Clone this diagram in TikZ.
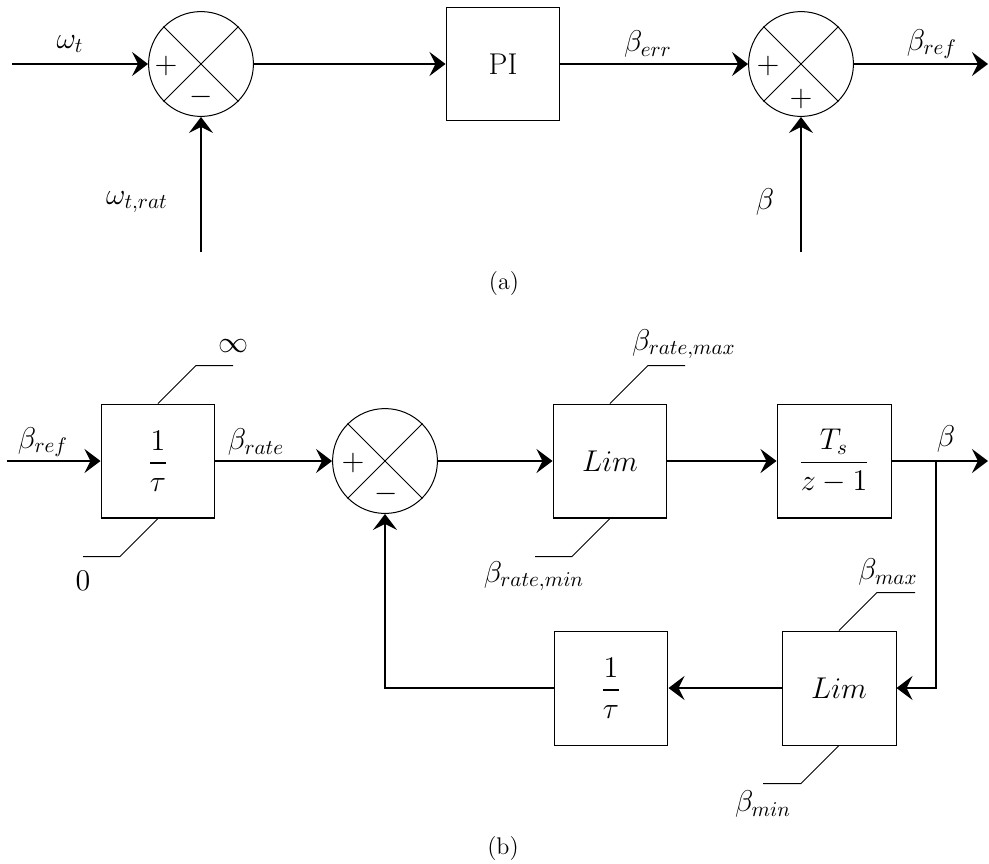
\RequirePackage{fix-cm}
\documentclass[tikz,border=0pt,12pt]{standalone}
\usepackage{amsmath}
\usetikzlibrary{arrows.meta}
\tikzset{
 big/.style={font=\fontsize{15}{18}\selectfont},
 blk/.style={big, draw, line width=0.5pt, minimum width=2cm, minimum height=2cm, inner sep=0pt},
 sumc/.style={draw, circle, line width=0.5pt, minimum size=1.84cm, inner sep=0pt},
 cross/.style={line width=0.5pt},
 sig/.style={line width=1pt, -{Stealth[length=8pt,width=12pt,inset=3pt]}},
 limline/.style={line width=0.5pt},
 lbl/.style={big, inner sep=0pt},
 captxt/.style={inner sep=0pt},
}
\begin{document}
\begin{tikzpicture}[x=0.01754cm, y=-0.01754cm]
\useasboundingbox (0,0) rectangle (989,863);
% ---------- (a) ----------
\coordinate (ain) at (12,64);
\node[sumc] (s1) at (201,64) {};
\draw[cross] (s1.north west) -- (s1.south east) (s1.north east) -- (s1.south west);
\node[lbl] (s1p) at (166,66) {$+$};
\node[lbl] (s1m) at (201,97) {$-$};
\node[blk] (pi) at (503,64) {PI};
\node[sumc] (s2) at (801,64) {};
\draw[cross] (s2.north west) -- (s2.south east) (s2.north east) -- (s2.south west);
\node[lbl] (s2p) at (768,66) {$+$};
\node[lbl] (s2q) at (801,99) {$+$};
\coordinate (aout) at (988,64);
\coordinate (aw) at (201,252);
\coordinate (ab) at (801,252);
\draw[sig] (ain) -- (s1.west);
\draw[sig] (aw) -- (s1.south);
\draw[sig] (s1.east) -- (pi.west);
\draw[sig] (pi.east) -- (s2.west);
\draw[sig] (s2.east) -- (aout);
\draw[sig] (ab) -- (s2.south);
\node[lbl] (lwt) at (70,44) {$\omega_t$};
\node[lbl] (lwr) at (137,202) {$\omega_{t,rat}$};
\node[lbl] (lbe) at (648,44) {$\beta_{err}$};
\node[lbl] (lbr) at (932,44) {$\beta_{ref}$};
\node[lbl] (lb) at (765,202) {$\beta$};
\node[captxt] (capa) at (504,283) {(a)};
% ---------- (b) ----------
\node[blk] (g1) at (158,461) {$\dfrac{1}{\tau}$};
\node[sumc] (s3) at (385,461) {};
\draw[cross] (s3.north west) -- (s3.south east) (s3.north east) -- (s3.south west);
\node[lbl] (s3p) at (353,463) {$+$};
\node[lbl] (s3m) at (386,494) {$-$};
\node[blk] (lim1) at (610,461) {$Lim$};
\node[blk] (ts) at (834,461) {$\dfrac{T_s}{z-1}$};
\node[blk] (lim2) at (839,688) {$Lim$};
\node[blk] (g2) at (611,688) {$\dfrac{1}{\tau}$};
\coordinate (bin) at (7,461);
\coordinate (bout) at (988,461);
\coordinate (br) at (936,461);
\draw[sig] (bin) -- (g1.west);
\draw[sig] (g1.east) -- (s3.west);
\draw[sig] (s3.east) -- (lim1.west);
\draw[sig] (lim1.east) -- (ts.west);
\draw[sig] (ts.east) -- (bout);
\draw[sig] (br) |- (lim2.east);
\draw[sig] (lim2.west) -- (g2.east);
\draw[sig] (g2.west) -| (s3.south);
% limiter marks
\draw[limline] (g1.north) -- ++(38,-38) -- ++(37,0);
\draw[limline] (g1.south) -- ++(-38,38) -- ++(-37,0);
\draw[limline] (lim1.north) -- ++(38,-38) -- ++(37,0);
\draw[limline] (lim1.south) -- ++(-38,38) -- ++(-37,0);
\draw[limline] (lim2.north) -- ++(38,-38) -- ++(38,0);
\draw[limline] (lim2.south) -- ++(-38,38) -- ++(-38,0);
\node[lbl] (linf) at (234,346) {$\infty$};
\node[lbl] (lzero) at (83,581) {$0$};
\node[lbl] (lrmax) at (684,344) {$\beta_{rate,max}$};
\node[lbl] (lrmin) at (534,576) {$\beta_{rate,min}$};
\node[lbl] (lbmax) at (888,572) {$\beta_{max}$};
\node[lbl] (lbmin) at (763,804) {$\beta_{min}$};
\node[lbl] (lbref) at (43,442) {$\beta_{ref}$};
\node[lbl] (lbrate) at (256,442) {$\beta_{rate}$};
\node[lbl] (lbout) at (946,439) {$\beta$};
\node[captxt] (capb) at (503,848) {(b)};
\end{tikzpicture}
\end{document}
